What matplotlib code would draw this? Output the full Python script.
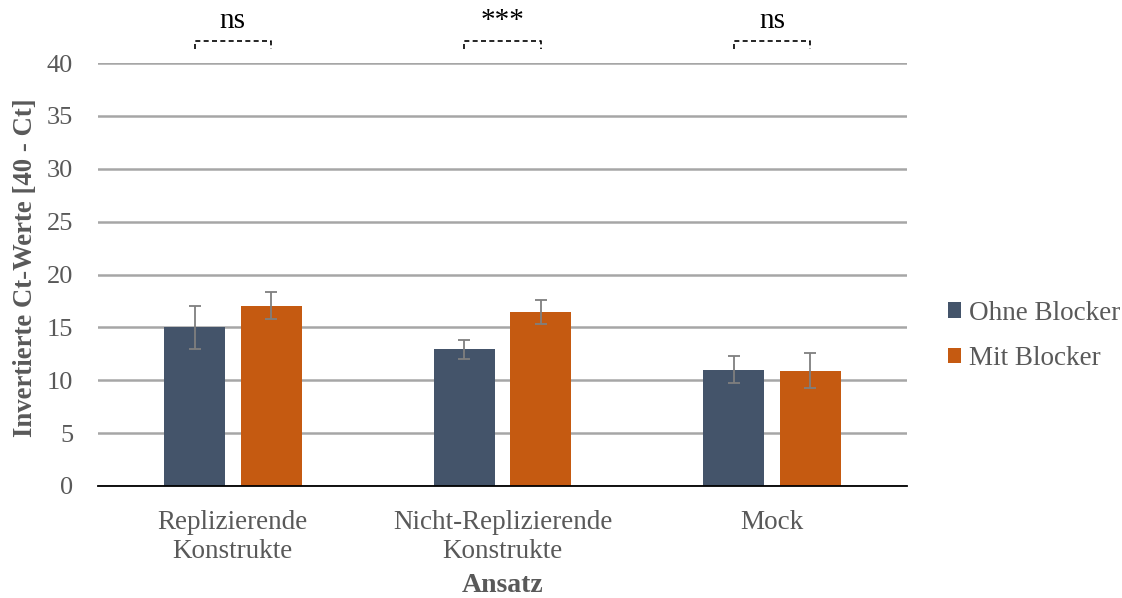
import numpy as np
import matplotlib
matplotlib.use("Agg")
import matplotlib.pyplot as plt

plt.rcParams['font.family'] = ['Liberation Serif', 'DejaVu Serif']

# Mittelwerte und Standardabweichungen (invertierte Ct-Werte)
categories = ["Replizierende\nKonstrukte", "Nicht-Replizierende\nKonstrukte", "Mock"]
ohne_blocker = [15.0, 12.95, 11.0]
ohne_err = [2.05, 0.9, 1.3]
mit_blocker = [17.05, 16.45, 10.9]
mit_err = [1.3, 1.15, 1.65]
significance = ["ns", "***", "ns"]

c_ohne = '#44546A'
c_mit = '#C55A11'
grey_txt = '#595959'

fig = plt.figure(figsize=(11.22, 5.98), dpi=100)
ax = fig.add_axes([98 / 1122, 1 - 486 / 598, 809 / 1122, (486 - 63) / 598])

x = np.arange(len(categories))
w = 0.226
off = 0.142
ax.bar(x - off, ohne_blocker, w, color=c_ohne, label='Ohne Blocker', zorder=3)
ax.bar(x + off, mit_blocker, w, color=c_mit, label='Mit Blocker', zorder=3)
ax.errorbar(x - off, ohne_blocker, yerr=ohne_err, fmt='none', ecolor='#7f7f7f',
            elinewidth=1.3, capsize=4, capthick=1.3, zorder=4)
ax.errorbar(x + off, mit_blocker, yerr=mit_err, fmt='none', ecolor='#7f7f7f',
            elinewidth=1.3, capsize=4, capthick=1.3, zorder=4)

ax.set_xlim(-0.5, 2.5)
ax.set_ylim(0, 40)
ax.set_yticks(np.arange(0, 41, 5))
ax.grid(axis='y', color='#a6a6a6', linewidth=1.8, zorder=0)
ax.set_axisbelow(True)
for s in ['left', 'right', 'top']:
    ax.spines[s].set_visible(False)
ax.spines['bottom'].set_color('black')
ax.spines['bottom'].set_linewidth(1.3)
ax.spines['bottom'].set_zorder(5)
ax.tick_params(axis='both', length=0, labelcolor=grey_txt)
ax.tick_params(axis='y', pad=18, labelsize=19)
ax.tick_params(axis='x', pad=17, labelsize=19.5)
ax.set_xticks(x)
ax.set_xticklabels(categories, linespacing=1.25)

ax.set_ylabel('Invertierte Ct-Werte [40 - Ct]', fontsize=19.3, fontweight='bold',
              color=grey_txt)
ax.yaxis.set_label_coords(-0.074, 0.515)
ax.set_xlabel('Ansatz', fontsize=20, fontweight='bold', color=grey_txt, labelpad=6)

# Signifikanz-Klammern oberhalb der Gruppen
for xi, sig in zip(x, significance):
    x0, x1 = xi - off, xi + off
    ax.plot([x0, x0, x1, x1], [41.3, 42.1, 42.1, 41.3], color='black',
            linestyle=(0, (3, 2)), linewidth=1.2, clip_on=False)
    ax.text(xi, 44.0, sig, ha='center', va='center', fontsize=21, color='black',
            clip_on=False)

leg = ax.legend(loc='center left', bbox_to_anchor=(1.02, 0.355), frameon=False,
                prop={'family': 'Liberation Serif', 'size': 19.5},
                handlelength=0.5, handleheight=0.5, handletextpad=0.3,
                labelspacing=0.75, labelcolor=grey_txt)

fig.savefig('out.png', dpi=100)
